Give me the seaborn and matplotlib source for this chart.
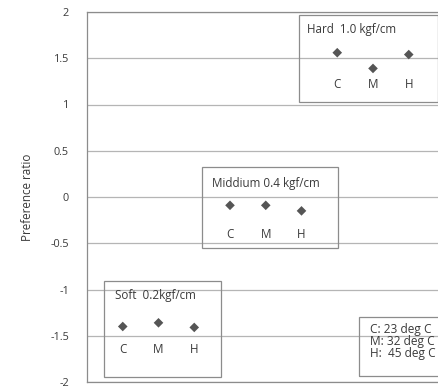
import matplotlib
matplotlib.use("Agg")
import matplotlib.pyplot as plt
import seaborn as sns
import pandas as pd
from matplotlib.patches import Rectangle

# ---- data ----
groups = ["Soft", "Middium", "Hard"]
group_titles = ["Soft  0.2kgf/cm", "Middium 0.4 kgf/cm", "Hard  1.0 kgf/cm"]
temps = ["C", "M", "H"]
soft_vals = [-1.40, -1.36, -1.41]
middium_vals = [-0.09, -0.09, -0.15]
hard_vals = [1.56, 1.39, 1.54]
legend_lines = ["C: 23 deg C", "M: 32 deg C", "H:  45 deg C"]
yticks = [2, 1.5, 1, 0.5, 0, -0.5, -1, -1.5, -2]
ytick_labels = ["2", "1.5", "1", "0.5", "0", "-0.5", "-1", "-1.5", "-2"]

vals = [soft_vals, middium_vals, hard_vals]
rows = []
for gi, g in enumerate(groups):
    for ti, t in enumerate(temps):
        rows.append({"group": g, "temp": t, "pos": gi * 3 + ti + 1, "value": vals[gi][ti]})
df = pd.DataFrame(rows)

sns.set_theme(style="white")
plt.rcParams["font.family"] = ["Open Sans", "DejaVu Sans"]
txt = "#3a3a3a"
edge = "#8c8c8c"

fig = plt.figure(figsize=(4.39, 3.87), dpi=100)
ax = fig.add_axes([87 / 439, 5 / 387, 357.5 / 439, 370 / 387])

ax.set_xlim(0, 10)
ax.set_ylim(-2, 2)
for y in yticks:
    ax.axhline(y, color="#b5b5b5", lw=0.9, zorder=0)

sns.scatterplot(data=df, x="pos", y="value", marker="D", color="#555555",
                s=24, edgecolor="none", ax=ax, zorder=5, legend=False)

# group boxes (x0, y0, x1, y1) in data coords
boxes = [(0.48, -1.946, 3.75, -0.908), (3.22, -0.551, 7.02, 0.324), (5.93, 1.027, 9.82, 1.968)]
title_pos = [(0.78, -1.07), (3.5, 0.15), (6.15, 1.81)]
label_y = [-1.654, -0.41, 1.215]
fs = 8.4
for gi in range(3):
    x0, y0, x1, y1 = boxes[gi]
    ax.add_patch(Rectangle((x0, y0), x1 - x0, y1 - y0, fill=False,
                           edgecolor=edge, lw=0.9, zorder=2))
    ax.text(title_pos[gi][0], title_pos[gi][1], group_titles[gi], fontsize=fs,
            color=txt, va="center", ha="left", zorder=6)
    for ti, t in enumerate(temps):
        ax.text(gi * 3 + ti + 1, label_y[gi], t, fontsize=fs, color=txt,
                ha="center", va="center", zorder=6)

# legend box
ax.add_patch(Rectangle((7.61, -1.935), 3.0, 0.64, fill=False, edgecolor=edge,
                       lw=0.9, zorder=2, clip_on=False))
for i, line in enumerate(legend_lines):
    ax.text(7.93, -1.43 - i * 0.13, line, fontsize=8.6, color=txt,
            ha="left", va="center", zorder=6)

ax.set_yticks(yticks)
ax.set_yticklabels(ytick_labels)
ax.set_xticks([])
ax.tick_params(axis="y", length=0, pad=13, labelsize=7.8, labelcolor=txt)
ax.set_xlabel("")
ax.set_ylabel("Preference ratio", fontsize=8.4, color=txt, labelpad=12)
for s in ["left", "top", "bottom"]:
    ax.spines[s].set_color(edge)
    ax.spines[s].set_linewidth(0.9)
ax.spines["right"].set_visible(False)

fig.savefig("out.png", dpi=100)
